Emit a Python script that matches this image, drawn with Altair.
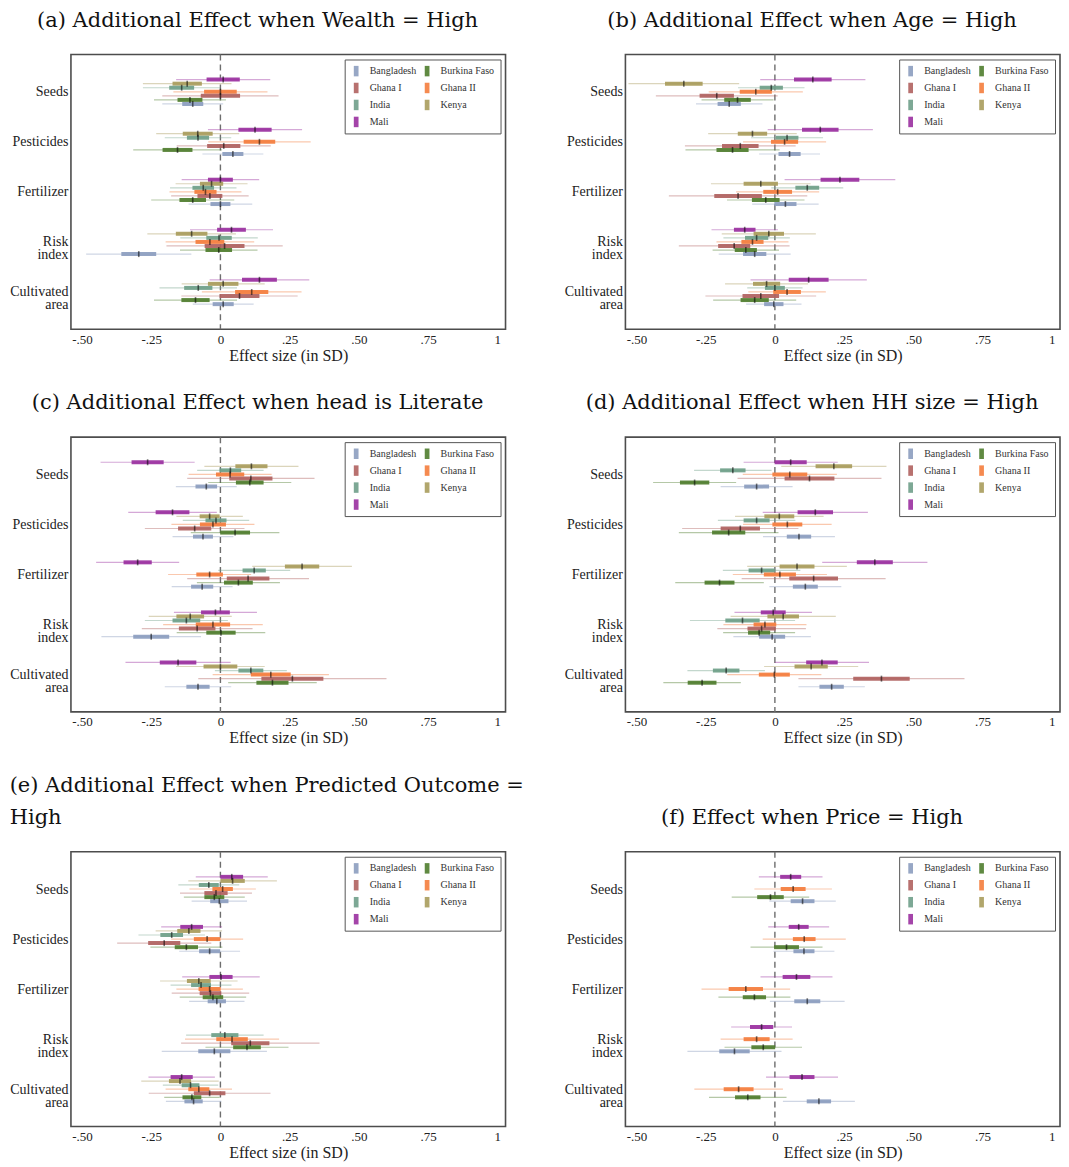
import json
import pandas as pd
import altair as alt

# ---------------- data ----------------
COUNTRIES = ["Bangladesh", "Burkina Faso", "Ghana I", "Ghana II", "India", "Kenya", "Mali"]
COLORS = ["#8c9dbf", "#4f7d2e", "#b0625f", "#f47d3d", "#6f9f89", "#a99c5c", "#9a30a0"]
# legend reading order (two columns, filled row by row in the figure)
LEGEND_ORDER = ["Bangladesh", "Ghana I", "India", "Mali", "Burkina Faso", "Ghana II", "Kenya"]
# order of rows inside each outcome group, top to bottom
ROW_ORDER = ["Mali", "Kenya", "India", "Ghana II", "Ghana I", "Burkina Faso", "Bangladesh"]
OUTCOMES = ["Seeds", "Pesticides", "Fertilizer", "Risk index", "Cultivated area"]
OUTCOME_LINES = [["Seeds"], ["Pesticides"], ["Fertilizer"], ["Risk", "index"], ["Cultivated", "area"]]
X_TICKS = [-0.5, -0.25, 0, 0.25, 0.5, 0.75, 1]
X_TICK_LABELS = ["-.50", "-.25", "0", ".25", ".50", ".75", "1"]

TITLES = [
    "(a) Additional Effect when Wealth = High",
    "(b) Additional Effect when Age = High",
    "(c) Additional Effect when head is Literate",
    "(d) Additional Effect when HH size = High",
    ["(e) Additional Effect when Predicted Outcome =", "High"],
    "(f) Effect when Price = High",
]

N = None
# estimates, half-width of thick interval, half-width of thin interval
# rows: outcomes; columns: ROW_ORDER
A_EST = [[0.01, -0.12, -0.14, 0.0, 0.0, -0.11, -0.10],
         [0.125, -0.082, -0.081, 0.141, 0.012, -0.155, 0.045],
         [0.0, -0.032, -0.062, -0.054, -0.038, -0.10, 0.0],
         [0.04, -0.104, -0.005, -0.038, 0.015, -0.006, -0.295],
         [0.141, 0.01, -0.08, 0.113, 0.069, -0.09, 0.01]]
A_HW1 = [[0.06, 0.053, 0.045, 0.059, 0.071, 0.045, 0.038],
         [0.06, 0.054, 0.04, 0.057, 0.06, 0.054, 0.038],
         [0.045, 0.042, 0.039, 0.04, 0.045, 0.048, 0.036],
         [0.052, 0.057, 0.046, 0.052, 0.072, 0.048, 0.063],
         [0.063, 0.055, 0.051, 0.06, 0.072, 0.051, 0.038]]
A_HW2 = [[0.17, 0.16, 0.14, 0.17, 0.21, 0.13, 0.11],
         [0.17, 0.15, 0.12, 0.185, 0.17, 0.16, 0.11],
         [0.14, 0.13, 0.12, 0.13, 0.14, 0.15, 0.115],
         [0.15, 0.16, 0.14, 0.16, 0.21, 0.14, 0.19],
         [0.18, 0.15, 0.14, 0.18, 0.21, 0.15, 0.11]]

B_EST = [[0.137, -0.329, -0.013, -0.069, -0.21, -0.135, -0.165],
         [0.164, -0.081, 0.044, 0.035, -0.125, -0.153, 0.053],
         [0.235, -0.051, 0.117, 0.01, -0.133, -0.033, 0.038],
         [-0.109, -0.022, -0.066, -0.081, -0.147, -0.105, -0.073],
         [0.122, -0.03, 0.0, 0.044, -0.051, -0.073, -0.004]]
B_HW1 = [[0.068, 0.068, 0.042, 0.058, 0.062, 0.048, 0.042],
         [0.066, 0.053, 0.041, 0.049, 0.066, 0.058, 0.04],
         [0.07, 0.062, 0.043, 0.052, 0.086, 0.05, 0.04],
         [0.039, 0.055, 0.042, 0.04, 0.058, 0.04, 0.042],
         [0.072, 0.049, 0.036, 0.05, 0.066, 0.051, 0.035]]
B_HW2 = [[0.19, 0.2, 0.12, 0.17, 0.22, 0.13, 0.12],
         [0.19, 0.16, 0.13, 0.15, 0.2, 0.17, 0.11],
         [0.2, 0.18, 0.13, 0.15, 0.25, 0.14, 0.12],
         [0.12, 0.17, 0.12, 0.13, 0.2, 0.12, 0.13],
         [0.21, 0.15, 0.1, 0.14, 0.2, 0.15, 0.1]]

C_EST = [[-0.263, 0.112, 0.036, 0.035, 0.11, 0.106, -0.051],
         [-0.173, -0.039, -0.016, -0.027, -0.093, 0.053, -0.063],
         [-0.299, 0.295, 0.122, -0.039, 0.1, 0.065, -0.066],
         [-0.018, -0.109, -0.123, -0.027, -0.084, 0.002, -0.25],
         [-0.153, 0.0, 0.11, 0.182, 0.26, 0.188, -0.081]]
C_HW1 = [[0.058, 0.058, 0.039, 0.051, 0.078, 0.05, 0.039],
         [0.061, 0.036, 0.038, 0.047, 0.06, 0.054, 0.036],
         [0.051, 0.062, 0.042, 0.048, 0.077, 0.052, 0.04],
         [0.052, 0.05, 0.05, 0.062, 0.066, 0.053, 0.065],
         [0.066, 0.061, 0.045, 0.072, 0.112, 0.058, 0.042]]
C_HW2 = [[0.17, 0.17, 0.12, 0.15, 0.23, 0.15, 0.11],
         [0.16, 0.12, 0.12, 0.15, 0.18, 0.16, 0.11],
         [0.15, 0.18, 0.13, 0.15, 0.22, 0.15, 0.11],
         [0.15, 0.15, 0.15, 0.18, 0.2, 0.16, 0.18],
         [0.19, 0.16, 0.13, 0.21, 0.34, 0.16, 0.12]]

D_EST = [[0.057, 0.213, -0.152, 0.054, 0.125, -0.29, -0.066],
         [0.146, 0.016, -0.066, 0.045, -0.125, -0.167, 0.087],
         [0.361, 0.08, -0.048, 0.018, 0.14, -0.2, 0.11],
         [-0.006, 0.03, -0.117, -0.036, -0.048, -0.057, -0.01],
         [0.17, 0.131, -0.176, -0.002, 0.385, -0.263, 0.205]]
D_HW1 = [[0.058, 0.066, 0.046, 0.063, 0.09, 0.053, 0.045],
         [0.064, 0.054, 0.047, 0.054, 0.071, 0.06, 0.044],
         [0.065, 0.063, 0.047, 0.058, 0.088, 0.054, 0.045],
         [0.045, 0.057, 0.062, 0.041, 0.051, 0.04, 0.047],
         [0.057, 0.06, 0.048, 0.056, 0.102, 0.052, 0.044]]
D_HW2 = [[0.17, 0.19, 0.14, 0.17, 0.26, 0.15, 0.13],
         [0.19, 0.16, 0.14, 0.16, 0.21, 0.18, 0.13],
         [0.19, 0.18, 0.14, 0.17, 0.26, 0.16, 0.13],
         [0.14, 0.19, 0.19, 0.15, 0.16, 0.13, 0.14],
         [0.17, 0.17, 0.14, 0.17, 0.3, 0.14, 0.12]]

E_EST = [[0.041, 0.044, -0.042, 0.008, -0.016, -0.022, -0.004],
         [-0.104, -0.114, -0.176, -0.048, -0.203, -0.123, -0.039],
         [0.002, -0.078, -0.07, -0.039, -0.036, -0.027, -0.013],
         [N, N, 0.016, 0.042, 0.108, 0.096, -0.022],
         [-0.14, -0.146, -0.108, -0.078, -0.039, -0.103, -0.097]]
E_HW1 = [[0.041, 0.044, 0.036, 0.037, 0.042, 0.036, 0.033],
         [0.041, 0.042, 0.041, 0.048, 0.058, 0.042, 0.038],
         [0.042, 0.043, 0.036, 0.04, 0.039, 0.037, 0.033],
         [N, N, 0.049, 0.057, 0.069, 0.05, 0.058],
         [0.04, 0.04, 0.032, 0.038, 0.057, 0.034, 0.033]]
E_HW2 = [[0.13, 0.16, 0.11, 0.12, 0.13, 0.11, 0.1],
         [0.11, 0.12, 0.12, 0.13, 0.17, 0.13, 0.11],
         [0.14, 0.14, 0.11, 0.12, 0.14, 0.12, 0.1],
         [N, N, 0.14, 0.17, 0.25, 0.15, 0.19],
         [0.12, 0.14, 0.1, 0.12, 0.22, 0.1, 0.1]]

F_EST = [[0.057, N, N, 0.066, N, -0.016, 0.1],
         [0.086, N, N, 0.106, N, 0.042, 0.105],
         [0.078, N, N, -0.105, N, -0.074, 0.117],
         [-0.048, N, N, -0.066, N, -0.042, -0.146],
         [0.098, N, N, -0.131, N, -0.098, 0.159]]
F_HW1 = [[0.038, N, N, 0.045, N, 0.048, 0.043],
         [0.036, N, N, 0.041, N, 0.045, 0.038],
         [0.05, N, N, 0.062, N, 0.042, 0.047],
         [0.042, N, N, 0.047, N, 0.043, 0.055],
         [0.045, N, N, 0.054, N, 0.046, 0.044]]
F_HW2 = [[0.115, N, N, 0.14, N, 0.14, 0.12],
         [0.11, N, N, 0.15, N, 0.13, 0.11],
         [0.13, N, N, 0.16, N, 0.13, 0.135],
         [0.11, N, N, 0.13, N, 0.14, 0.17],
         [0.13, N, N, 0.16, N, 0.14, 0.13]]

PANELS = [(A_EST, A_HW1, A_HW2), (B_EST, B_HW1, B_HW2), (C_EST, C_HW1, C_HW2),
          (D_EST, D_HW1, D_HW2), (E_EST, E_HW1, E_HW2), (F_EST, F_HW1, F_HW2)]

# ---------------- layout ----------------
ROW_STEP = 0.081
PW, PH = 435, 275
SERIF = "Liberation Serif"
TITLE_FONT = "DejaVu Serif"

x_scale = alt.Scale(domain=[-0.54, 1.03], nice=False, zero=False)
y_scale = alt.Scale(domain=[-0.645, 4.645], reverse=True, nice=False, zero=False)

x_label_expr = "%s[indexof(%s, datum.value)]" % (json.dumps(X_TICK_LABELS), json.dumps(X_TICKS))
y_label_expr = "%s[datum.value]" % json.dumps(OUTCOME_LINES)

x_axis = alt.Axis(values=X_TICKS, labelExpr=x_label_expr, grid=False, ticks=False, tickSize=0,
                  domain=False, title="Effect size (in SD)", titleFontSize=16,
                  titleFontWeight="normal", titleFont=SERIF, labelFont=SERIF, labelFontSize=13,
                  labelPadding=4, titlePadding=1, labelFlush=False, labelColor="#222",
                  titleColor="#222")
y_axis = alt.Axis(values=[0, 1, 2, 3, 4], labelExpr=y_label_expr, grid=False, ticks=False,
                  tickSize=0, domain=False, title=None, labelFont=SERIF, labelFontSize=14,
                  labelPadding=3, labelLineHeight=13, labelColor="#222")

legend = alt.Legend(orient="top-right", columns=2, title=None,
                    symbolType="M-0.45,-1H0.45V1H-0.45Z", symbolSize=110,
                    symbolStrokeWidth=0, symbolOpacity=0.9,
                    labelFont=SERIF, labelFontSize=10, labelColor="#333",
                    strokeColor="#555", fillColor="white", padding=6, offset=5,
                    rowPadding=6, columnPadding=5, labelOffset=8)


def make_df(est, hw1, hw2):
    rows = []
    for g, outcome in enumerate(OUTCOMES):
        for r, country in enumerate(ROW_ORDER):
            e = est[g][r]
            if e is None:
                continue
            rows.append({
                "outcome": outcome, "country": country,
                "y": g + (r - 3) * ROW_STEP,
                "est": e,
                "lo1": e - hw1[g][r], "hi1": e + hw1[g][r],
                "lo2": e - hw2[g][r], "hi2": e + hw2[g][r],
            })
    return pd.DataFrame(rows)


def make_panel(i):
    est, hw1, hw2 = PANELS[i]
    df = make_df(est, hw1, hw2)
    base = alt.Chart(df)
    color_range = [COLORS[COUNTRIES.index(c)] for c in LEGEND_ORDER]
    color = alt.Color("country:N", scale=alt.Scale(domain=LEGEND_ORDER, range=color_range),
                      legend=legend)
    X = lambda f: alt.X(f, scale=x_scale, axis=x_axis)
    Y = alt.Y("y:Q", scale=y_scale, axis=y_axis)

    zero = alt.Chart(pd.DataFrame({"z": [0.0]})).mark_rule(
        color="#6e6e6e", strokeDash=[6, 4], strokeWidth=1.4).encode(x=X("z:Q"))
    thin = base.mark_bar(orient="horizontal", size=1.2, opacity=0.42).encode(
        x=X("lo2:Q"), x2="hi2:Q", y=Y, color=color)
    thick = base.mark_bar(orient="horizontal", size=4, opacity=0.92).encode(
        x=X("lo1:Q"), x2="hi1:Q", y=Y, color=color)
    tick = base.mark_tick(orient="vertical", size=6, thickness=1.6, color="black",
                          opacity=0.55).encode(x=X("est:Q"), y=Y)

    t = TITLES[i]
    if isinstance(t, list):
        title = alt.TitleParams(text=t, font=TITLE_FONT, fontSize=21, fontWeight="normal",
                                anchor="start", align="left", frame="bounds", offset=23,
                                lineHeight=32, color="#111")
    else:
        title = alt.TitleParams(text=t, font=TITLE_FONT, fontSize=21, fontWeight="normal",
                                anchor="middle", frame="bounds", offset=23, lineHeight=32,
                                color="#111")
    return alt.layer(zero, thin, thick, tick).properties(width=PW, height=PH, title=title)


rows = []
for k in range(3):
    row = alt.hconcat(make_panel(2 * k), make_panel(2 * k + 1), spacing=120, bounds="flush")
    row = row.resolve_scale(color="independent").resolve_legend(color="independent")
    rows.append(row)

chart = alt.vconcat(*rows, spacing=27, padding={"left": 0, "top": 0, "right": 0, "bottom": 0})
chart = chart.resolve_scale(color="independent").resolve_legend(color="independent")
chart = chart.configure_view(stroke="#4d4d4d", strokeWidth=1.6)

chart.save("out.html", embed_options={"renderer": "svg", "actions": False})
